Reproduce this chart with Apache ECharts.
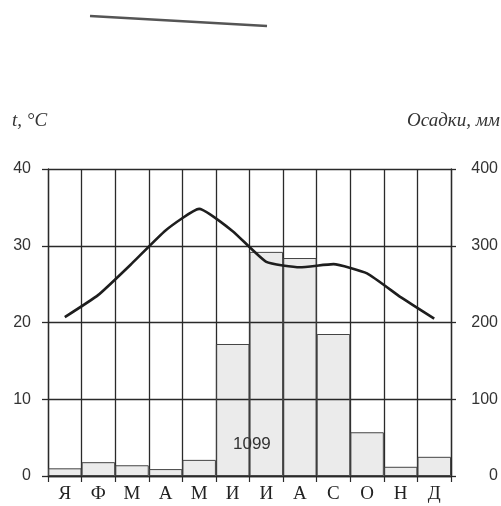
<!DOCTYPE html>
<html>
<head>
<meta charset="utf-8">
<script src="https://cdn.jsdelivr.net/npm/echarts@6/dist/echarts.min.js"></script>
<style>
  html, body { margin: 0; padding: 0; background: #fff; }
  #chart { width: 501px; height: 506px; }
</style>
</head>
<body>
<div id="chart"></div>
<script>
// месяцы
const months = ["Я", "Ф", "М", "А", "М", "И", "И", "А", "С", "О", "Н", "Д"];
// осадки, мм
const precip = [10, 18, 14, 9, 21, 172, 292, 284, 185, 57, 12, 25];
// температура, °C
const temp = [20.7, 23.6, 27.7, 32.0, 34.8, 31.9, 27.9, 27.2, 27.6, 26.4, 23.3, 20.5];
const tempTicks = [0, 10, 20, 30, 40];
const precipTicks = [0, 100, 200, 300, 400];
const totalPrecip = "1099";

const lineColor = "#2a2a2a";

let chart = echarts.init(document.getElementById("chart"));
let option = {
  animation: false,
  backgroundColor: "#fff",
  grid: { left: 48, right: 48, top: 169, bottom: 30 },
  xAxis: {
    type: "category",
    data: months,
    boundaryGap: true,
    axisLine: { show: true, lineStyle: { color: lineColor, width: 1.3 } },
    axisTick: { show: true, length: 6, lineStyle: { color: lineColor, width: 1.2 } },
    splitLine: { show: true, lineStyle: { color: lineColor, width: 1.3 } },
    axisLabel: {
      margin: 9,
      color: "#222",
      fontFamily: "Liberation Serif",
      fontSize: 19
    }
  },
  yAxis: [
    {
      type: "value",
      min: tempTicks[0],
      max: tempTicks[tempTicks.length - 1],
      interval: 10,
      axisLine: { show: true, lineStyle: { color: lineColor, width: 1.3 } },
      axisTick: { show: true, length: 6, lineStyle: { color: lineColor, width: 1.3 } },
      splitLine: { show: true, lineStyle: { color: lineColor, width: 1.3 } },
      axisLabel: {
        margin: 17,
        color: "#333",
        fontFamily: "Liberation Sans",
        fontSize: 16
      }
    },
    {
      type: "value",
      position: "right",
      min: precipTicks[0],
      max: precipTicks[precipTicks.length - 1],
      interval: 100,
      axisLine: { show: true, lineStyle: { color: lineColor, width: 1.3 } },
      axisTick: { show: true, length: 5, lineStyle: { color: lineColor, width: 1.3 } },
      splitLine: { show: false },
      axisLabel: {
        margin: 47,
        align: "right",
        color: "#333",
        fontFamily: "Liberation Sans",
        fontSize: 16
      }
    }
  ],
  graphic: [
    {
      type: "text",
      left: 12,
      top: 111,
      style: { text: "t, °C", font: "italic 19px 'Liberation Serif'", fill: "#333" }
    },
    {
      type: "text",
      right: 1,
      top: 111,
      style: { text: "Осадки, мм", font: "italic 19px 'Liberation Serif'", fill: "#333" }
    },
    {
      type: "text",
      left: 233,
      top: 436,
      z: 10,
      style: { text: totalPrecip, font: "17px 'Liberation Sans'", fill: "#333" }
    },
    {
      type: "line",
      shape: { x1: 90, y1: 16, x2: 267, y2: 26 },
      style: { stroke: "#555", lineWidth: 2.5 }
    }
  ],
  series: [
    {
      type: "bar",
      yAxisIndex: 1,
      data: precip,
      barWidth: "100%",
      barGap: "0%",
      itemStyle: { color: "rgba(0,0,0,0.08)", borderColor: "#444", borderWidth: 1 },
      z: 1
    },
    {
      type: "line",
      yAxisIndex: 0,
      data: temp,
      symbol: "none",
      smooth: 0.15,
      lineStyle: { color: "#1e1e1e", width: 2.6 },
      z: 5
    }
  ]
};
chart.setOption(option);
</script>
</body>
</html>
